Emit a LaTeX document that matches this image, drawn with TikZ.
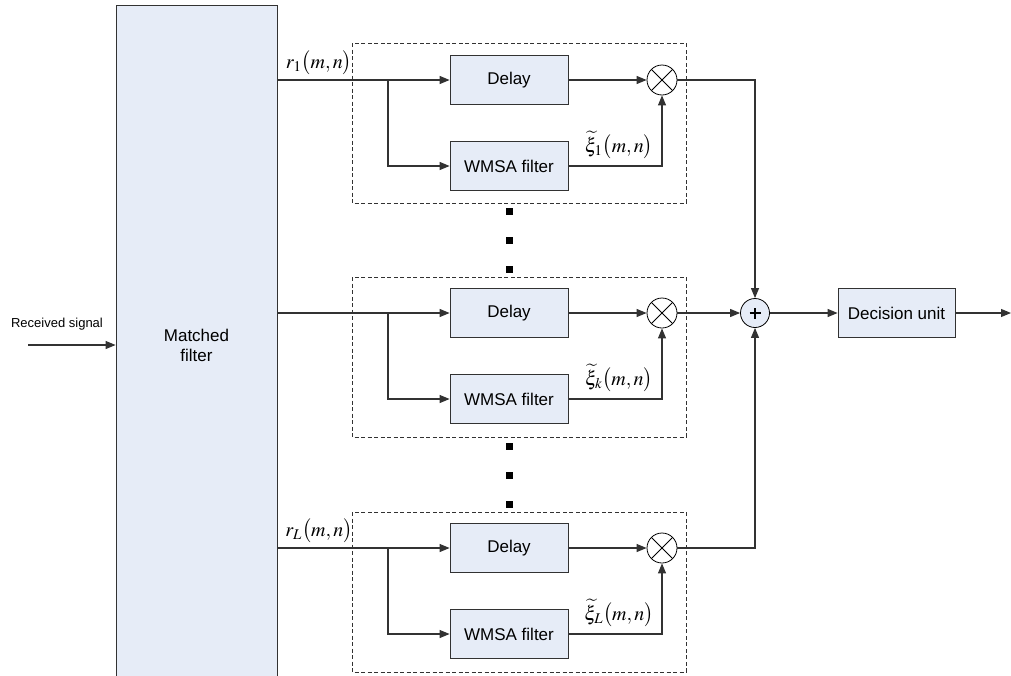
\documentclass[tikz,border=0pt]{standalone}
\usepackage{mathptmx}
\usepackage[no-math]{fontspec}
\setmainfont{Liberation Sans}
\usetikzlibrary{arrows.meta}
\definecolor{blockfill}{RGB}{230,236,247}
\definecolor{wire}{RGB}{50,50,50}

\begin{document}
\begin{tikzpicture}[x=1pt,y=-1pt,line width=1.1pt,draw=wire,
    mult/.style={path picture={
      \draw[black,line width=0.8pt]
       (path picture bounding box.south west) -- (path picture bounding box.north east)
       (path picture bounding box.south east) -- (path picture bounding box.north west);
    }},
    sum/.style={path picture={
      \draw[black,line width=1.7pt]
       ([yshift=-5.5pt]path picture bounding box.center) -- ([yshift=5.5pt]path picture bounding box.center)
       ([xshift=-5.5pt]path picture bounding box.center) -- ([xshift=5.5pt]path picture bounding box.center);
    }}]

    % `block' is used for all the filter boxes.
    % `mixer' and `adder' are the multiplier and the summation.
    % `branchbox' frames one diversity branch.
    \tikzstyle{block} = [draw=wire,fill=blockfill,line width=0.8pt,minimum width=118pt,minimum height=49pt,inner sep=0pt,font=\fontsize{17}{20}\selectfont]
    \tikzstyle{mixer} = [draw=black,mult,circle,fill=white,minimum size=30pt,inner sep=0pt,line width=0.8pt]
    \tikzstyle{adder} = [draw=black,sum,circle,fill=blockfill,minimum size=29pt,inner sep=0pt,line width=0.8pt]
    \tikzstyle{ellip} = [fill=black,minimum size=7pt,inner sep=0pt]
    \tikzstyle{branchbox} = [draw=wire,line width=0.7pt,dash pattern=on 4pt off 2.5pt]
    \tikzstyle{signal} = [-{Triangle[length=10pt,width=8pt]}]
    \tikzstyle{mathlabel} = [inner sep=0pt,font=\fontsize{20}{23}\selectfont]
    %
    \useasboundingbox (0,0) rectangle (1011,675);

    % Matched filter and input.
    \node[block,minimum width=161pt,minimum height=680pt,align=center] (mf) at (196.5,345) {Matched\\filter};
    \coordinate (in) at (28,345);
    \node[font=\fontsize{13}{15}\selectfont] (rx) at (57,324) {Received signal};
    \draw[signal] (in) -- (mf.west);

    % First branch.
    \node[block] (d1) at (509,80) {Delay};
    \node[block] (w1) at (509,166) {WMSA filter};
    \node[mixer] (m1) at (662,80) {};
    \coordinate (b1) at (388,80);
    \draw[signal] (mf.east |- d1) -- (d1.west);
    \draw[signal] (b1) |- (w1.west);
    \draw[signal] (d1.east) -- (m1.west);
    \draw[signal] (w1.east) -| (m1.south);
    \draw[branchbox] (352,43) rectangle (686,203);
    \node[mathlabel] (r1) at (319,63) {$r_1\big(m,n\big)$};
    \node[mathlabel] (x1) at (619,145) {$\widetilde{\xi}_1\big(m,n\big)$};

    \node[ellip] (e1) at (509,211) {};
    \node[ellip] (e2) at (509,240) {};
    \node[ellip] (e3) at (509,269) {};

    % Second branch.
    \node[block] (d2) at (509,313) {Delay};
    \node[block] (w2) at (509,399) {WMSA filter};
    \node[mixer] (m2) at (662,313) {};
    \coordinate (b2) at (388,313);
    \draw[signal] (mf.east |- d2) -- (d2.west);
    \draw[signal] (b2) |- (w2.west);
    \draw[signal] (d2.east) -- (m2.west);
    \draw[signal] (w2.east) -| (m2.south);
    \draw[branchbox] (352,277) rectangle (686,437);
    \node[mathlabel] (x2) at (619,378) {$\widetilde{\xi}_k\big(m,n\big)$};

    \node[ellip] (e4) at (509,446) {};
    \node[ellip] (e5) at (509,475) {};
    \node[ellip] (e6) at (509,504) {};

    % Third branch.
    \node[block] (d3) at (509,548) {Delay};
    \node[block] (w3) at (509,634) {WMSA filter};
    \node[mixer] (m3) at (662,548) {};
    \coordinate (b3) at (388,548);
    \draw[signal] (mf.east |- d3) -- (d3.west);
    \draw[signal] (b3) |- (w3.west);
    \draw[signal] (d3.east) -- (m3.west);
    \draw[signal] (w3.east) -| (m3.south);
    \draw[branchbox] (352,512) rectangle (686,672);
    \node[mathlabel] (r3) at (319,531) {$r_L\big(m,n\big)$};
    \node[mathlabel] (x3) at (619,613) {$\widetilde{\xi}_L\big(m,n\big)$};

    % Combining and decision.
    \node[adder] (s) at (755,313) {};
    \node[block,minimum width=117pt] (du) at (896.5,313) {Decision unit};
    \coordinate (out) at (1011,313);
    \draw[signal] (m1.east) -| (s.north);
    \draw[signal] (m3.east) -| (s.south);
    \draw[signal] (m2.east) -- (s.west);
    \draw[signal] (s.east) -- (du.west);
    \draw[signal] (du.east) -- (out);
    %
    \end{tikzpicture}
\end{document}
